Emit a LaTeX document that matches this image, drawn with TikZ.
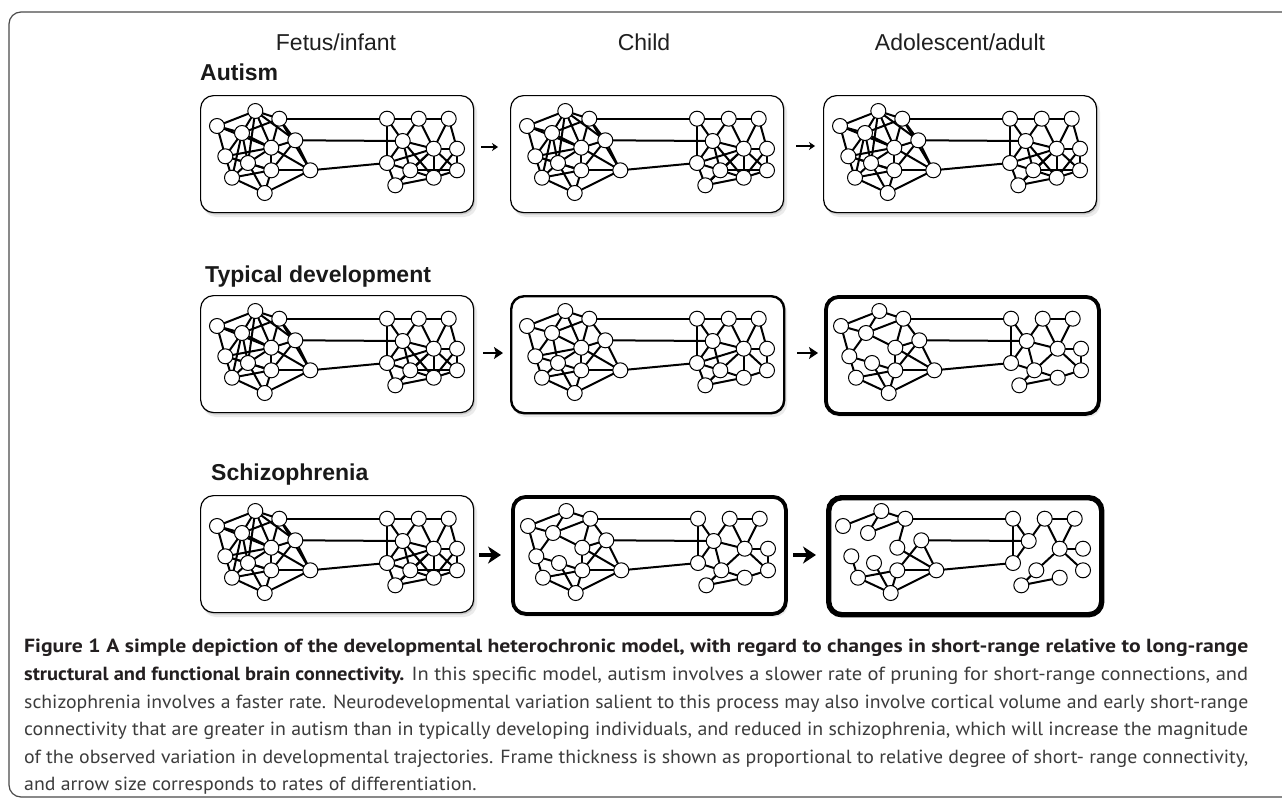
\documentclass[tikz,border=0pt]{standalone}
\usepackage{fontspec}
\setmainfont{Liberation Sans}
\newfontfamily\capfont{PT Sans}
\usepackage{graphicx}
\usetikzlibrary{arrows.meta}
\definecolor{capgray}{HTML}{3C3C3C}
\definecolor{capblack}{HTML}{231F20}
\definecolor{framegray}{HTML}{4A4A4A}

\def\nodelist{A/17/31,B/55.3/16,C/79.3/23.7,D/42/38,E/95.3/45.3,F/71.3/52.7,G/25.3/61.3,H/48/68,I/71.3/75.3,J/110.3/75.3,K/32/82.7,L/64.7/98,M/187/23.7,N/218.7/23.7,O/248.7/23.7,P/202.7/46,Q/233.7/53.7,R/257/53.7,S/187/68,T/210.3/75.3,U/257/75.3,V/233.7/82.7,W/195.3/90.3}
\def\EdgesA{C/M,E/P,J/S,M/S,A/B,B/C,B/D,D/C,C/F,F/J,E/I,E/J,G/K,H/L,K/I,K/L,I/L,L/J,I/J,M/P,P/S,N/P,N/O,N/Q,O/Q,Q/R,Q/U,Q/T,T/W,W/V}
\def\EdgesB{A/G,A/D,C/E,D/F,F/I,G/H,H/I,D/G,E/F,R/U,U/V,S/T,T/V,P/T,P/Q}
\def\EdgesC{B/F,H/K,O/R,Q/S,S/W,F/G,M/N,D/H,Q/V,H/F}
\def\EdgesD{B/H,C/J,R/V,B/E,T/U,D/K,Q/W,A/F,P/V,G/I}

\tikzset{
  nd/.style={circle,draw=black,fill=white,line width=1pt,minimum size=15pt,inner sep=0pt},
  ed/.style={line width=2pt,black},
  pframe/.style={draw=black,fill=white,rounded corners=13pt,minimum width=273pt,minimum height=117pt,anchor=north west,inner sep=0pt},
  hdr/.style={font=\fontsize{23}{27}\selectfont,text=black!88,inner sep=0pt},
  rowlab/.style={font=\bfseries\fontsize{23}{27}\selectfont,text=black!90,anchor=west,inner sep=0pt},
  capl/.style={anchor=base west,inner sep=0pt},
}

% #1 name, #2 x, #3 y, #4 frame width, #5 pruning level
\newcommand\panel[5]{%
  \fill[black!8,rounded corners=13pt] (#2+3,#3+4) rectangle (#2+277,#3+122);
  \fill[black!20,rounded corners=13pt] (#2+1.5,#3+2) rectangle (#2+275,#3+119.5);
  \node[pframe,line width=#4pt] (#1) at (#2,#3) {};
  \foreach \n/\px/\py in \nodelist {\coordinate (#1\n) at (#2+\px,#3+\py);}
  \foreach \a/\b in \EdgesA {\draw[ed] (#1\a) -- (#1\b);}
  \ifnum#5<3 \foreach \a/\b in \EdgesB {\draw[ed] (#1\a) -- (#1\b);}\fi
  \ifnum#5<2 \foreach \a/\b in \EdgesC {\draw[ed] (#1\a) -- (#1\b);}\fi
  \ifnum#5<1 \foreach \a/\b in \EdgesD {\draw[ed] (#1\a) -- (#1\b);}\fi
  \foreach \n/\px/\py in \nodelist {\node[nd] (#1\n n) at (#1\n) {};}
}

\newlength\capw
\newcommand\capsz{\capfont\fontsize{19}{23}\selectfont}
\newcommand\capline[1]{\resizebox{1224pt}{\height}{#1}}
\newcommand\lastline{%
  \settowidth\capw{of the observed variation in developmental trajectories. Frame thickness is shown as proportional to relative degree of short- range connectivity,}%
  \pgfmathsetmacro\capfac{1224/\capw}%
  \scalebox{\capfac}[1]{and arrow size corresponds to rates of differentiation.}}

\begin{document}
\begin{tikzpicture}[x=1pt,y=-1pt]
\useasboundingbox (0,0) rectangle (1282,800);
\fill[white] (0,0) rectangle (1282,800);
% outer frame
\draw[framegray,line width=1.2pt,rounded corners=12pt] (1310,12) -- (9,12) -- (9,797) -- (1310,797);

% headers
\node[hdr] (h1) at (336,42) {Fetus/infant};
\node[hdr] (h2) at (644,42) {Child};
\node[hdr] (h3) at (960,42) {Adolescent/adult};

% row labels
\node[rowlab] (l1) at (200,72) {Autism};
\node[rowlab] (l2) at (205,277) {Typical development};
\node[rowlab] (l3) at (211,475) {Schizophrenia};

% panels
\panel{pa}{200}{95}{1.2}{0}
\panel{pb}{510}{95}{1.2}{0}
\panel{pc}{823}{95}{1.2}{0}
\panel{pd}{200}{295}{1.2}{0}
\panel{pe}{510}{295}{2.4}{1}
\panel{pf}{824}{295}{3.8}{2}
\panel{pg}{200}{495}{1.2}{0}
\panel{ph}{511}{495}{3.8}{2}
\panel{pi}{826}{495}{5.4}{3}

% arrows
\coordinate (a1s) at (481,147); \coordinate (a1e) at (498,147);
\coordinate (a2s) at (796,146); \coordinate (a2e) at (815,146);
\coordinate (a3s) at (483,353); \coordinate (a3e) at (503,353);
\coordinate (a4s) at (797,353); \coordinate (a4e) at (818,353);
\coordinate (a5s) at (479,555); \coordinate (a5e) at (501,555);
\coordinate (a6s) at (793,555); \coordinate (a6e) at (816,555);
\draw[line width=1.4pt,-{Stealth[length=6pt,width=8pt]}] (a1s) -- (a1e);
\draw[line width=1.4pt,-{Stealth[length=6pt,width=8pt]}] (a2s) -- (a2e);
\draw[line width=2.8pt,-{Stealth[length=9pt,width=12pt,inset=2pt]}] (a3s) -- (a3e);
\draw[line width=2.8pt,-{Stealth[length=9pt,width=12pt,inset=2pt]}] (a4s) -- (a4e);
\draw[line width=4pt,-{Stealth[length=13pt,width=17pt,inset=4pt]}] (a5s) -- (a5e);
\draw[line width=4pt,-{Stealth[length=13pt,width=17pt,inset=4pt]}] (a6s) -- (a6e);

% caption
\node[capl,text=capblack] (c1) at (24,652) {\capsz\capline{\bfseries Figure 1 A simple depiction of the developmental heterochronic model, with regard to changes in short-range relative to long-range}};
\node[capl,text=capgray] (c2) at (24,680) {\capsz\capline{\textcolor{capblack}{\bfseries structural and functional brain connectivity.} In this specific model, autism involves a slower rate of pruning for short-range connections, and}};
\node[capl,text=capgray] (c3) at (24,708) {\capsz\capline{schizophrenia involves a faster rate. Neurodevelopmental variation salient to this process may also involve cortical volume and early short-range}};
\node[capl,text=capgray] (c4) at (24,735) {\capsz\capline{connectivity that are greater in autism than in typically developing individuals, and reduced in schizophrenia, which will increase the magnitude}};
\node[capl,text=capgray] (c5) at (24,763) {\capsz\capline{of the observed variation in developmental trajectories. Frame thickness is shown as proportional to relative degree of short- range connectivity,}};
\node[capl,text=capgray] (c6) at (24,790) {\capsz\lastline};
\end{tikzpicture}
\end{document}
